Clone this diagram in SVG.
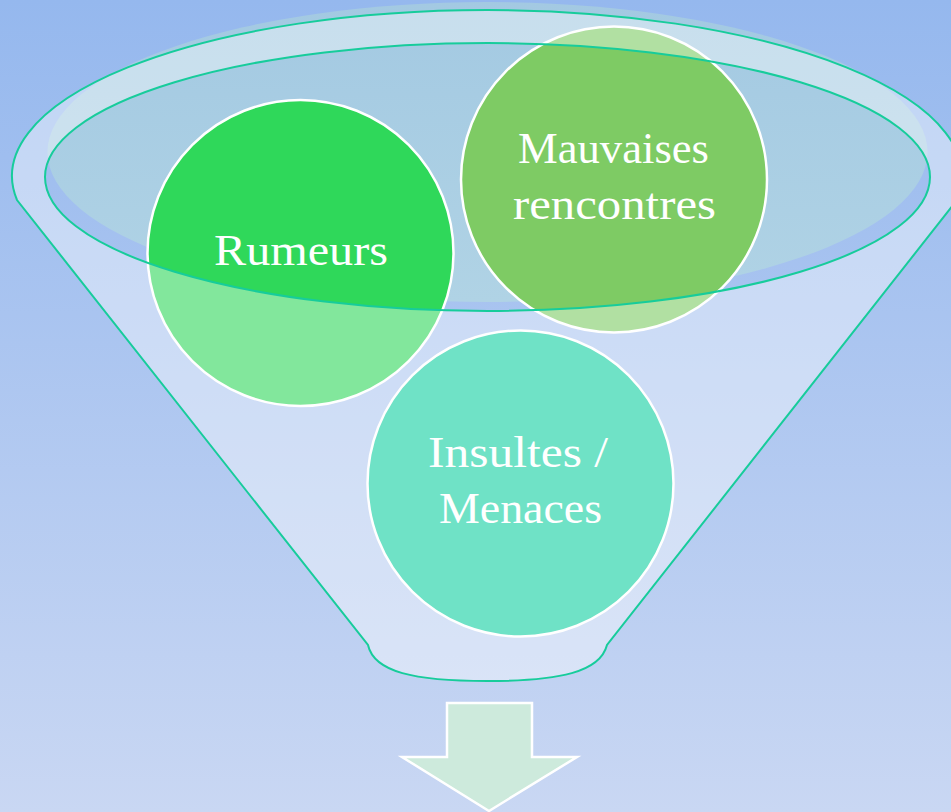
<svg xmlns="http://www.w3.org/2000/svg" width="951" height="812" viewBox="0 0 951 812">
  <defs>
    <linearGradient id="bg" x1="0" y1="0" x2="0" y2="1">
      <stop offset="0" stop-color="#95b8ee"/>
      <stop offset="1" stop-color="#c9d7f3"/>
    </linearGradient>
    <linearGradient id="glass" x1="0" y1="0" x2="0" y2="1">
      <stop offset="0" stop-color="#a3c9e2"/>
      <stop offset="1" stop-color="#b0d3e5"/>
    </linearGradient>
    <style>
      .node circle { stroke: #ffffff; stroke-width: 2.5; }
      .label { font-family: "Liberation Serif", "Times New Roman", serif; font-size: 45px; fill: #ffffff; text-anchor: middle; }
      .rim { fill: none; stroke: #17cc9b; stroke-width: 2; }
    </style>
  </defs>

  <rect x="0" y="0" width="951" height="812" fill="url(#bg)"/>

  <g id="funnel-glass">
    <ellipse cx="487.5" cy="152" rx="440" ry="150" fill="url(#glass)"/>
  </g>

  <g id="node-rumeurs" class="node">
    <circle cx="300.5" cy="253" r="153" fill="#2fd85a"/>
    <text class="label" x="301" y="265" textLength="174" lengthAdjust="spacingAndGlyphs">Rumeurs</text>
  </g>

  <g id="node-mauvaises" class="node">
    <circle cx="614" cy="179.5" r="153" fill="#7ecb64"/>
    <text class="label" x="613.5" y="163" textLength="191" lengthAdjust="spacingAndGlyphs">Mauvaises</text>
    <text class="label" x="614.5" y="219" textLength="203" lengthAdjust="spacingAndGlyphs">rencontres</text>
  </g>

  <g id="node-insultes" class="node">
    <circle cx="520.5" cy="483.5" r="153" fill="#0fcfa0"/>
    <text class="label" x="518" y="467" textLength="180" lengthAdjust="spacingAndGlyphs">Insultes /</text>
    <text class="label" x="520.5" y="523" textLength="163" lengthAdjust="spacingAndGlyphs">Menaces</text>
  </g>

  <g id="funnel-body">
    <path fill="#ffffff" fill-opacity="0.4" fill-rule="evenodd"
      d="M 17 200 A 475 166 0 1 1 957 200 L 607 645 C 600 672, 560 681, 487 681 C 414 681, 374 672, 368 645 Z
         M 45 177 A 442.5 134 0 1 0 930 177 A 442.5 134 0 1 0 45 177 Z"/>
    <path class="rim" d="M 17 200 A 475 166 0 1 1 957 200 L 607 645 C 600 672, 560 681, 487 681 C 414 681, 374 672, 368 645 Z"/>
    <ellipse class="rim" cx="487.5" cy="177" rx="442.5" ry="134"/>
  </g>

  <g id="connectors">
    <polygon points="447,703 532,703 532,757 577,757 489,811 402,757 447,757" fill="#cdeadc" stroke="#ffffff" stroke-width="2.5"/>
  </g>
</svg>
